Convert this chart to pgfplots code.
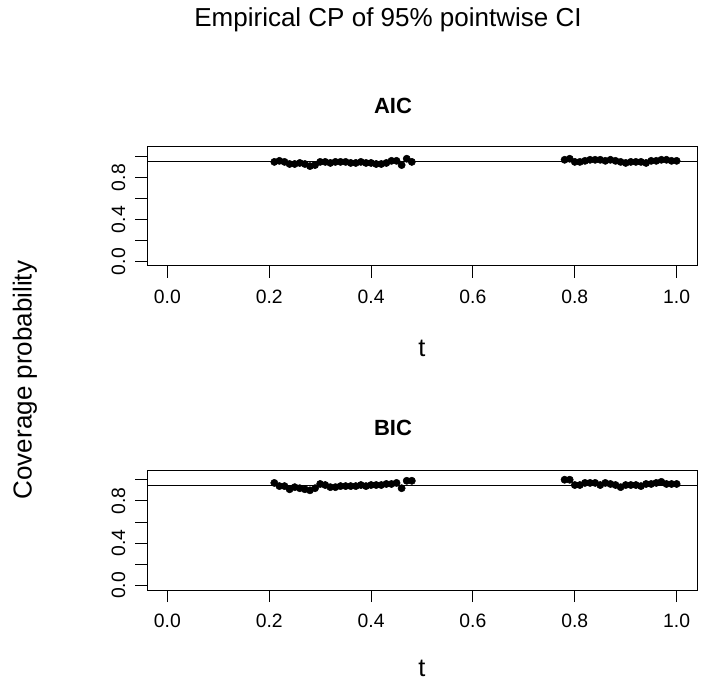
\documentclass[border=0pt]{standalone}
\usepackage{fontspec}
\setmainfont{Liberation Sans}
\usepackage{pgfplots}
\pgfplotsset{compat=1.18}

\pgfplotsset{rpanel/.style={
    scale only axis,
    anchor=south west,
    width=412.5pt,
    xmin=-0.04, xmax=1.04,
    ymin=-0.042, ymax=1.092,
    axis line style={line width=0.75pt},
    tick style={line width=0.75pt, black},
    tick align=outside,
    major tick length=9pt,
    xtick pos=left, ytick pos=left,
    xtick={0,0.2,0.4,0.6,0.8,1},
    xticklabels={0.0,0.2,0.4,0.6,0.8,1.0},
    ytick={0,0.2,0.4,0.6,0.8,1},
    yticklabels={0.0,,0.4,,0.8,},
    tick label style={font=\fontsize{14.5}{15}\selectfont},
    xticklabel style={anchor=base, yshift=-19pt},
    yticklabel style={rotate=90, anchor=base, yshift=7.5pt},
    clip=false,
}}

\pgfplotstableread{
t cp
0.21 0.95
0.22 0.96
0.23 0.95
0.24 0.93
0.25 0.93
0.26 0.94
0.27 0.93
0.28 0.91
0.29 0.92
0.30 0.95
0.31 0.95
0.32 0.94
0.33 0.95
0.34 0.95
0.35 0.95
0.36 0.94
0.37 0.94
0.38 0.95
0.39 0.94
0.40 0.94
0.41 0.93
0.42 0.93
0.43 0.94
0.44 0.96
0.45 0.96
0.46 0.92
0.47 0.98
0.48 0.95
0.78 0.97
0.79 0.98
0.80 0.95
0.81 0.95
0.82 0.96
0.83 0.97
0.84 0.97
0.85 0.97
0.86 0.96
0.87 0.97
0.88 0.96
0.89 0.95
0.90 0.94
0.91 0.95
0.92 0.95
0.93 0.95
0.94 0.94
0.95 0.96
0.96 0.96
0.97 0.97
0.98 0.97
0.99 0.96
1.00 0.96
}\aicdata

\pgfplotstableread{
t cp
0.21 0.97
0.22 0.94
0.23 0.94
0.24 0.91
0.25 0.93
0.26 0.92
0.27 0.91
0.28 0.90
0.29 0.92
0.30 0.96
0.31 0.95
0.32 0.93
0.33 0.93
0.34 0.94
0.35 0.94
0.36 0.94
0.37 0.94
0.38 0.95
0.39 0.94
0.40 0.95
0.41 0.95
0.42 0.95
0.43 0.96
0.44 0.96
0.45 0.97
0.46 0.92
0.47 0.99
0.48 0.99
0.78 1.00
0.79 1.00
0.80 0.95
0.81 0.95
0.82 0.97
0.83 0.97
0.84 0.97
0.85 0.95
0.86 0.97
0.87 0.96
0.88 0.95
0.89 0.93
0.90 0.95
0.91 0.95
0.92 0.95
0.93 0.94
0.94 0.96
0.95 0.96
0.96 0.97
0.97 0.98
0.98 0.96
0.99 0.96
1.00 0.96
}\bicdata

\begin{document}
\begin{tikzpicture}
\path[use as bounding box] (0,0) rectangle (534pt,516.75pt);

% AIC panel
\begin{axis}[rpanel, at={(110.25pt,317.25pt)}, height=89.25pt]
\addplot[black, line width=0.75pt, forget plot] coordinates {(-0.04,0.95) (1.04,0.95)};
\addplot[only marks, mark=*, mark size=2.7pt, black] table[x=t, y=cp] {\aicdata};
\end{axis}

% BIC panel
\begin{axis}[rpanel, at={(110.25pt,74.25pt)}, height=90pt]
\addplot[black, line width=0.75pt, forget plot] coordinates {(-0.04,0.95) (1.04,0.95)};
\addplot[only marks, mark=*, mark size=2.7pt, black] table[x=t, y=cp] {\bicdata};
\end{axis}

\node[font=\fontsize{19.5}{22}\selectfont] at (291pt,501.75pt) {Empirical CP of 95\% pointwise CI};
\node[font=\fontsize{16.5}{19}\selectfont\bfseries] at (294.75pt,437.25pt) {AIC};
\node[font=\fontsize{16.5}{19}\selectfont\bfseries] at (294.75pt,195.75pt) {BIC};
\node[font=\fontsize{19}{22}\selectfont] at (316.5pt,255.75pt) {t};
\node[font=\fontsize{19}{22}\selectfont] at (316.5pt,15.75pt) {t};
\node[font=\fontsize{19.5}{22}\selectfont, rotate=90] at (18.75pt,231.75pt) {Coverage probability};
\end{tikzpicture}
\end{document}
